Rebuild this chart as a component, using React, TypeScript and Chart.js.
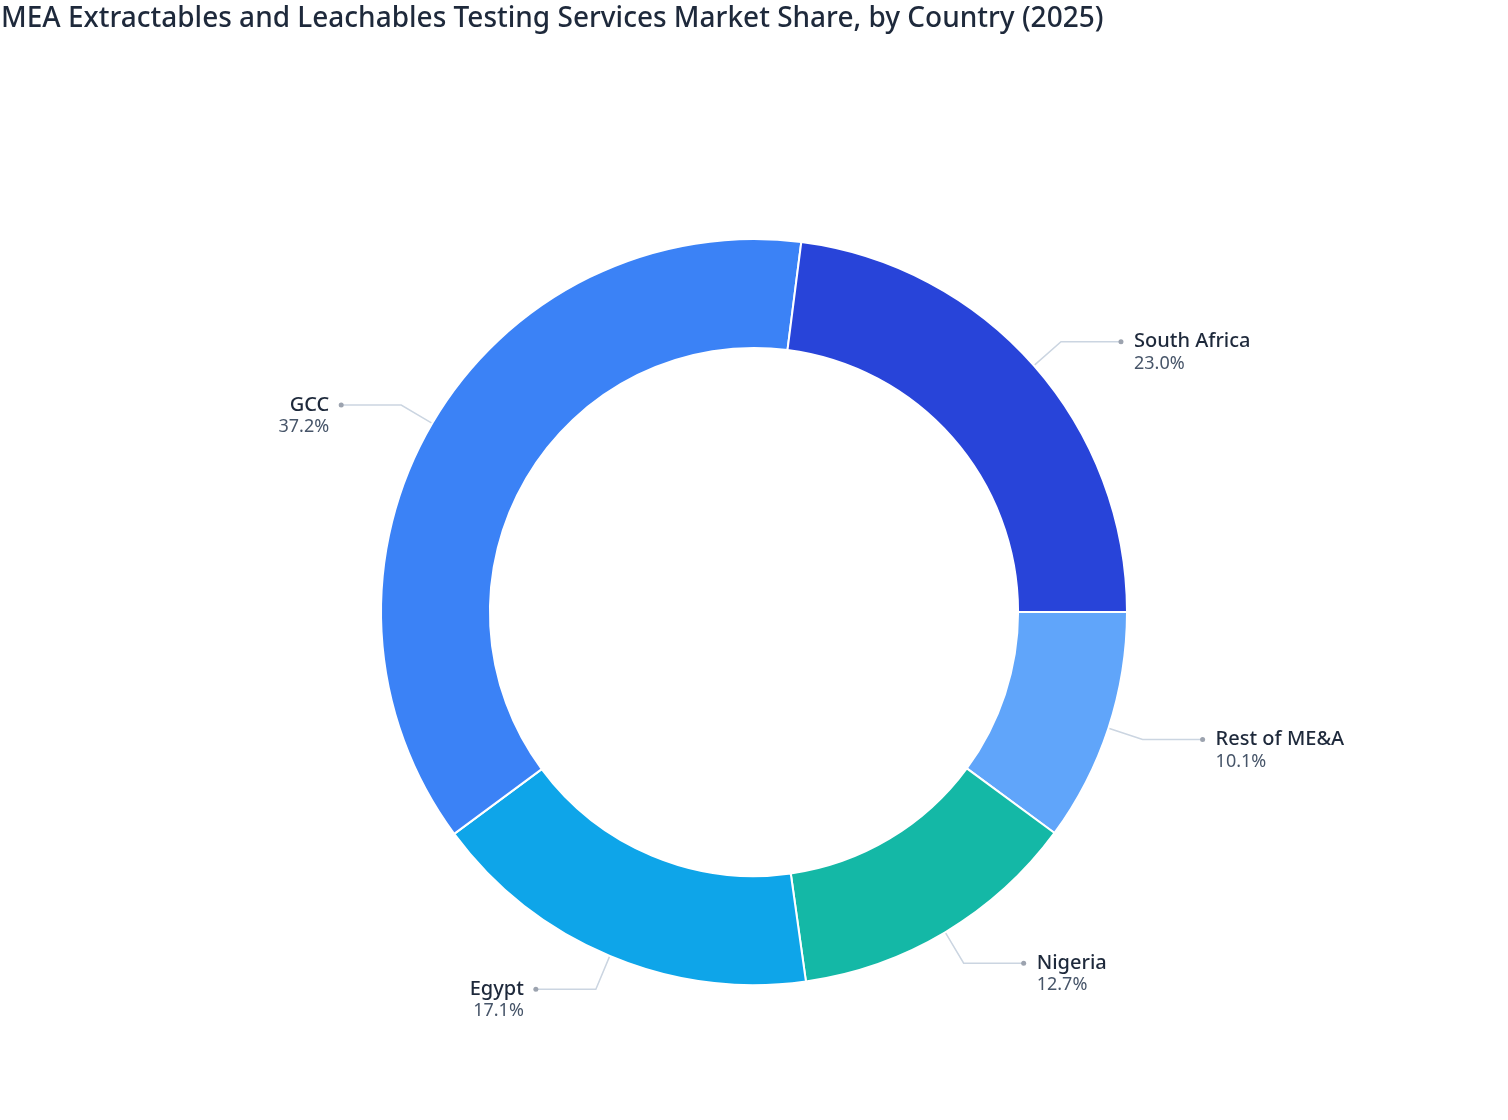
import React, { useEffect, useRef } from "react";
import { Chart, registerables } from "chart.js";

Chart.register(...registerables);

const TITLE = "MEA Extractables and Leachables Testing Services Market Share, by Country (2025)";
const categories = ["Rest of ME&A", "Nigeria", "Egypt", "GCC", "South Africa"];
const shares = [10.1, 12.7, 17.1, 37.2, 23.0];
const colors = ["#60A5FA", "#14B8A6", "#0EA5E9", "#3B82F6", "#2844D9"];

const FONT = "'Noto Sans', 'Open Sans', sans-serif";

const labelPlugin = {
  id: "leaderLabels",
  afterDraw(chart: any) {
    const ctx = chart.ctx;
    ctx.save();
    // title
    ctx.fillStyle = "#1e293b";
    ctx.font = `500 28px ${FONT}`;
    ctx.textAlign = "left";
    ctx.textBaseline = "middle";
    ctx.fillText(TITLE, 1, 19);

    const meta = chart.getDatasetMeta(0);
    meta.data.forEach((arc: any, i: number) => {
      const { x, y, startAngle, endAngle, outerRadius } = arc.getProps(
        ["x", "y", "startAngle", "endAngle", "outerRadius"],
        true
      );
      const mid = (startAngle + endAngle) / 2;
      const c = Math.cos(mid);
      const s = Math.sin(mid);
      const r0 = outerRadius + 1;
      const r1 = outerRadius + 36;
      const x0 = x + c * r0;
      const y0 = y + s * r0;
      const x1 = x + c * r1;
      const y1 = y + s * r1;
      const right = c >= 0;
      const x2 = x1 + (right ? 60 : -60);
      ctx.strokeStyle = "#cbd5e1";
      ctx.lineWidth = 1.5;
      ctx.beginPath();
      ctx.moveTo(x0, y0);
      ctx.lineTo(x1, y1);
      ctx.lineTo(x2, y1);
      ctx.stroke();
      ctx.fillStyle = "#9ca3af";
      ctx.beginPath();
      ctx.arc(x2, y1, 2.5, 0, Math.PI * 2);
      ctx.fill();
      const tx = x2 + (right ? 13 : -12);
      ctx.textAlign = right ? "left" : "right";
      ctx.textBaseline = "middle";
      ctx.fillStyle = "#1e293b";
      ctx.font = `500 20px ${FONT}`;
      ctx.fillText(categories[i], tx, y1);
      ctx.fillStyle = "#475569";
      ctx.font = `400 18px ${FONT}`;
      ctx.fillText(shares[i].toFixed(1) + "%", tx, y1 + 22);
    });
    ctx.restore();
  },
};

export default function App() {
  const ref = useRef<HTMLCanvasElement>(null);
  useEffect(() => {
    document.body.style.margin = "0";
    const chart = new Chart(ref.current as HTMLCanvasElement, {
      type: "doughnut",
      data: {
        labels: categories,
        datasets: [
          {
            data: shares,
            backgroundColor: colors,
            borderColor: "#ffffff",
            borderWidth: 2,
          },
        ],
      },
      options: {
        responsive: false,
        animation: false,
        rotation: 90,
        cutout: "70.8%",
        layout: { padding: { left: 380, right: 380, top: 238, bottom: 134 } },
        plugins: {
          legend: { display: false },
          title: { display: false },
          tooltip: { enabled: false },
        },
      },
      plugins: [labelPlugin],
    });
    return () => chart.destroy();
  }, []);
  return (
    <div style={{ width: 1508, height: 1120, background: "#fff" }}>
      <canvas ref={ref} width={1508} height={1120} style={{ display: "block" }} />
    </div>
  );
}
